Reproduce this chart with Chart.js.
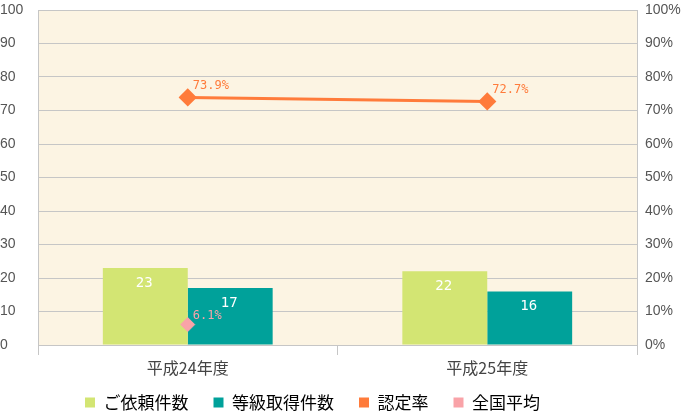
<!DOCTYPE html>
<html>
<head>
<meta charset="utf-8">
<script src="https://cdn.jsdelivr.net/npm/chart.js@4.4.1/dist/chart.umd.min.js"></script>
<style>
  body { margin: 0; background: #fff; }
  #wrap { width: 681px; height: 411px; }
</style>
</head>
<body>
<div id="wrap"><canvas id="myChart"></canvas></div>
<script>
const years = ["平成24年度", "平成25年度"];
const requests = [23, 22];
const certified = [17, 16];
const certRate = [73.9, 72.7];
const nationalAvg = [6.1, null];

const GRID = "#c6c6c6";

// cream plot background
const plotBg = {
  id: "plotBg",
  beforeDraw(chart) {
    const { ctx, chartArea: a } = chart;
    ctx.save();
    ctx.fillStyle = "#fcf4e3";
    ctx.fillRect(a.left, a.top, a.right - a.left, a.bottom - a.top);
    ctx.restore();
  },
};

// legend sits a bit left of centre and close to the bottom in the original
const legendShift = {
  id: "legendShift",
  afterLayout(chart) {
    const lg = chart.legend;
    if (lg) {
      lg.left -= 28;
      lg.right -= 28;
      lg.top -= 10;
      lg.bottom -= 10;
    }
  },
};

// value labels
const valueLabels = {
  id: "valueLabels",
  afterDatasetsDraw(chart) {
    const ctx = chart.ctx;
    ctx.save();
    chart.data.datasets.forEach((ds, i) => {
      const meta = chart.getDatasetMeta(i);
      meta.data.forEach((el, j) => {
        const v = ds.data[j];
        if (v == null) return;
        if (ds.type === "bar") {
          ctx.font = "14px 'DejaVu Sans Mono'";
          ctx.fillStyle = "#fff";
          ctx.textAlign = "center";
          ctx.textBaseline = "middle";
          ctx.fillText(v, el.x - 1, el.y + 15);
        } else {
          ctx.font = "12px 'DejaVu Sans Mono'";
          ctx.fillStyle = ds.borderColor;
          ctx.textAlign = "left";
          ctx.textBaseline = "bottom";
          ctx.fillText(v.toFixed(1) + "%", el.x + 5, el.y - (i === 2 ? 6 : 3));
        }
      });
    });
    ctx.restore();
  },
};

new Chart("myChart", {
  data: {
    labels: years,
    datasets: [
      {
        type: "bar",
        label: "ご依頼件数",
        data: requests,
        backgroundColor: "#d3e573",
        yAxisID: "y",
        order: 2,
      },
      {
        type: "bar",
        label: "等級取得件数",
        data: certified,
        backgroundColor: "#00a19a",
        yAxisID: "y",
        order: 2,
      },
      {
        type: "line",
        label: "認定率",
        data: certRate,
        borderColor: "#ff7b3b",
        backgroundColor: "#ff7b3b",
        borderWidth: 3,
        pointStyle: "rectRot",
        pointRadius: 7,
        pointHoverRadius: 7,
        yAxisID: "y1",
        order: 1,
      },
      {
        type: "line",
        label: "全国平均",
        data: nationalAvg,
        borderColor: "#f9a3a8",
        backgroundColor: "#f9a3a8",
        showLine: false,
        pointStyle: "rectRot",
        pointRadius: 7,
        pointHoverRadius: 7,
        yAxisID: "y1",
        order: 0,
      },
    ],
  },
  options: {
    responsive: true,
    maintainAspectRatio: false,
    animation: false,
    layout: { padding: { bottom: -20 } },
    datasets: {
      bar: { categoryPercentage: 0.567, barPercentage: 1.0 },
    },
    scales: {
      x: {
        grid: { offset: true, drawOnChartArea: false, color: GRID, tickLength: 10 },
        border: { color: GRID },
        ticks: { color: "#444", padding: 3, font: { family: "'Noto Sans CJK JP'", size: 16 } },
        afterFit(s) { s.height = 34; },
      },
      y: {
        position: "left",
        min: 0,
        max: 100,
        ticks: {
          stepSize: 10,
          color: "#555",
          crossAlign: "far",
          font: { family: "'Liberation Sans'", size: 14, lineHeight: 0.2 },
        },
        grid: { color: GRID, drawTicks: false },
        border: { color: GRID },
        afterFit(s) { s.width = 38; },
      },
      y1: {
        position: "right",
        min: 0,
        max: 100,
        ticks: {
          stepSize: 10,
          color: "#555",
          padding: 8,
          font: { family: "'Liberation Sans'", size: 14, lineHeight: 0.2 },
          callback: (v) => v + "%",
        },
        grid: { drawOnChartArea: false, drawTicks: false },
        border: { color: GRID },
        afterFit(s) { s.width = 44; },
      },
    },
    plugins: {
      legend: {
        position: "bottom",
        labels: {
          boxWidth: 10,
          boxHeight: 10,
          padding: 25,
          color: "#333",
          font: { family: "'Noto Sans CJK JP'", size: 17 },
          generateLabels(chart) {
            return chart.data.datasets.map((ds, i) => ({
              text: ds.label,
              fillStyle: ds.backgroundColor,
              strokeStyle: ds.backgroundColor,
              lineWidth: 0,
              datasetIndex: i,
            }));
          },
        },
      },
      tooltip: { enabled: false },
    },
  },
  plugins: [plotBg, legendShift, valueLabels],
});
</script>
</body>
</html>
